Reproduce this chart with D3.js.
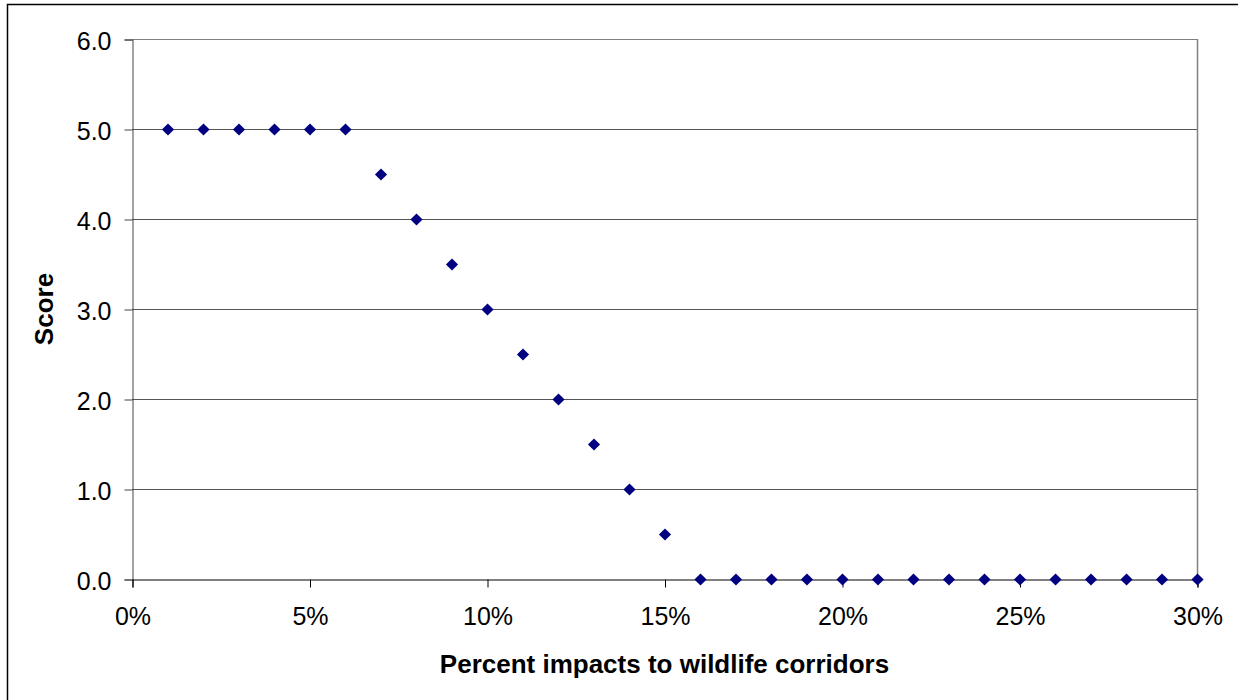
<!DOCTYPE html>
<html>
<head>
<meta charset="utf-8">
<script src="https://cdn.jsdelivr.net/npm/d3@7"></script>
<style>
  body { margin: 0; background: #fff; }
  svg { display: block; font-family: Arial, "Liberation Sans", sans-serif; }
</style>
</head>
<body>
<svg id="chart" width="1238" height="700"></svg>
<script>
// percent impacts (x) and score (y)
const impacts = [1, 2, 3, 4, 5, 6, 7, 8, 9, 10, 11, 12, 13, 14, 15,
                 16, 17, 18, 19, 20, 21, 22, 23, 24, 25, 26, 27, 28, 29, 30];
const scores = [5, 5, 5, 5, 5, 5, 4.5, 4, 3.5, 3, 2.5, 2, 1.5, 1, 0.5,
                0, 0, 0, 0, 0, 0, 0, 0, 0, 0, 0, 0, 0, 0, 0];
const xTicks = [0, 5, 10, 15, 20, 25, 30];
const yTicks = [0, 1, 2, 3, 4, 5, 6];

function draw() {
    let svg = d3.select("#chart");

    // outer chart border (only top/left edges fall inside the picture)
    svg.append("rect")
        .attr("x", 7.5).attr("y", 4.5)
        .attr("width", 2000).attr("height", 2000)
        .attr("fill", "#fff")
        .attr("stroke", "#000")
        .attr("stroke-width", 1.5);

    let left = 132, right = 1197, top = 39, bottom = 579;

    let x = d3.scaleLinear().domain([0, 30]).range([left, right]);
    let y = d3.scaleLinear().domain([0, 6]).range([bottom, top]);

    // gridlines
    svg.append("g")
        .selectAll("line")
        .data(yTicks.filter(d => d > 0))
        .enter()
        .append("line")
        .attr("x1", left).attr("x2", right)
        .attr("y1", d => y(d) + 0.5).attr("y2", d => y(d) + 0.5)
        .attr("stroke", d => d === 6 ? "#808080" : "#555")
        .attr("stroke-width", 1);

    // right edge of plot area
    svg.append("line")
        .attr("x1", right + 0.5).attr("x2", right + 0.5)
        .attr("y1", top).attr("y2", bottom)
        .attr("stroke", "#808080")
        .attr("stroke-width", 1.5);

    // y axis
    let yAxis = d3.axisLeft(y)
        .tickValues(yTicks)
        .tickSize(8)
        .tickPadding(13)
        .tickFormat(d3.format(".1f"));
    let gy = svg.append("g")
        .attr("transform", `translate(${left + 0.5},0.5)`)
        .call(yAxis);
    gy.select(".domain").attr("stroke", "#444");
    gy.selectAll(".tick line").attr("stroke", "#444");
    gy.selectAll(".tick text")
        .attr("font-size", 25)
        .attr("font-family", "Arial, 'Liberation Sans', sans-serif")
        .attr("fill", "#000")
        .attr("dy", "0.38em");

    // x axis
    let xAxis = d3.axisBottom(x)
        .tickValues(xTicks)
        .tickSize(8)
        .tickPadding(20)
        .tickFormat(d => d + "%");
    let gx = svg.append("g")
        .attr("transform", `translate(0.5,${bottom + 0.5})`)
        .call(xAxis);
    gx.select(".domain").attr("stroke", "#000");
    gx.selectAll(".tick line").attr("stroke", "#000");
    gx.selectAll(".tick text")
        .attr("font-size", 25)
        .attr("font-family", "Arial, 'Liberation Sans', sans-serif")
        .attr("fill", "#000");

    // diamond markers
    let diamond = d3.symbol().type(d3.symbolSquare).size(74);
    svg.append("g")
        .selectAll("path")
        .data(impacts.map((v, i) => ({x: v, y: scores[i]})))
        .enter()
        .append("path")
        .attr("d", diamond)
        .attr("transform", d => `translate(${x(d.x) + 0.5},${y(d.y) + 0.5}) rotate(45)`)
        .attr("fill", "#000080");

    // axis titles
    svg.append("text")
        .attr("x", (left + right) / 2)
        .attr("y", 673)
        .attr("text-anchor", "middle")
        .attr("font-size", 26)
        .attr("font-weight", "bold")
        .text("Percent impacts to wildlife corridors");

    svg.append("text")
        .attr("transform", `translate(53,${(top + bottom) / 2}) rotate(-90)`)
        .attr("text-anchor", "middle")
        .attr("font-size", 26)
        .attr("font-weight", "bold")
        .text("Score");
}

draw();
</script>
</body>
</html>
